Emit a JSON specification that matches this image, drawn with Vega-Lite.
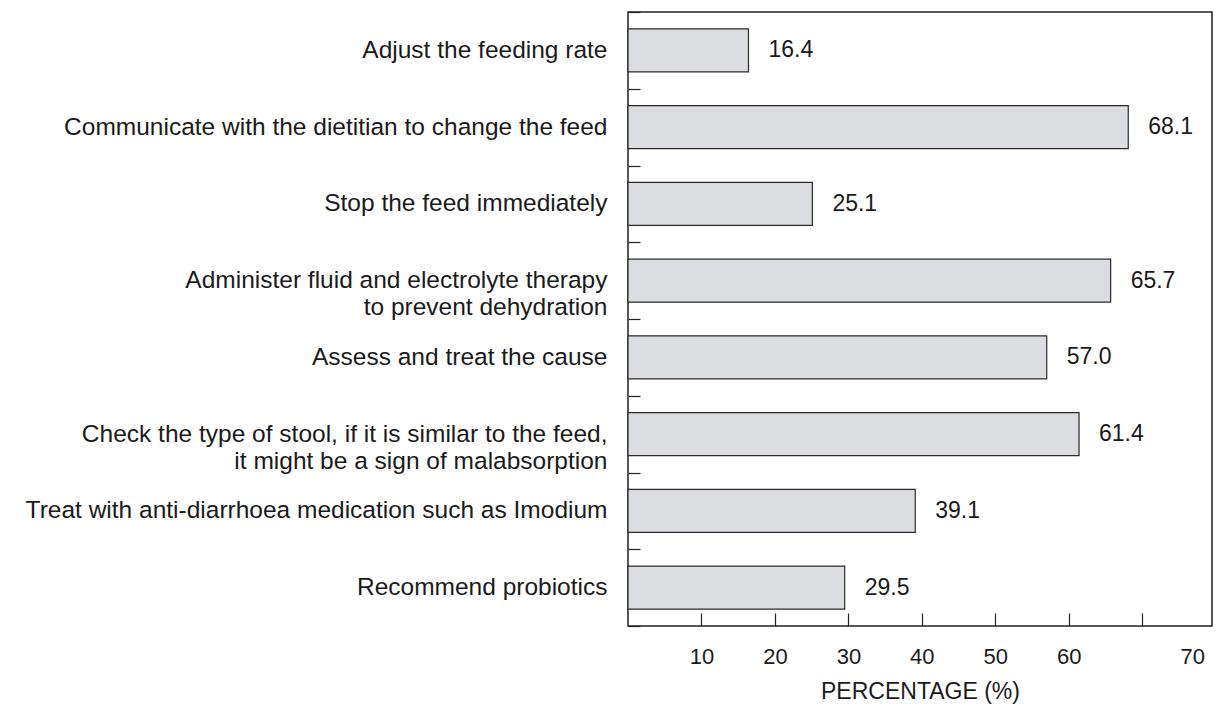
{
  "$schema": "https://vega.github.io/schema/vega-lite/v6.json",
  "autosize": "none",
  "padding": {"left": 628, "top": 12, "right": 6, "bottom": 78},
  "width": 584,
  "height": 614,
  "background": "white",
  "config": {
    "view": {"stroke": "#222222", "strokeWidth": 1.5},
    "font": "Liberation Sans"
  },
  "data": {
    "values": [
      {"action": "Adjust the feeding rate", "pct": 16.4},
      {"action": "Communicate with the dietitian to change the feed", "pct": 68.1},
      {"action": "Stop the feed immediately", "pct": 25.1},
      {"action": "Administer fluid and electrolyte therapy|to prevent dehydration", "pct": 65.7},
      {"action": "Assess and treat the cause", "pct": 57.0},
      {"action": "Check the type of stool, if it is similar to the feed,|it might be a sign of malabsorption", "pct": 61.4},
      {"action": "Treat with anti-diarrhoea medication such as Imodium", "pct": 39.1},
      {"action": "Recommend probiotics", "pct": 29.5}
    ]
  },
  "encoding": {
    "y": {
      "field": "action",
      "type": "nominal",
      "sort": null,
      "scale": {"paddingInner": 0, "paddingOuter": 0},
      "axis": {
        "title": null,
        "domain": false,
        "tickBand": "extent",
        "tickSize": -12,
        "tickColor": "#222222",
        "tickWidth": 1.2,
        "labelExpr": "split(datum.label, '|')",
        "labelFontSize": 24.5,
        "labelColor": "#1a1a1a",
        "labelPadding": 33,
        "labelLineHeight": 27,
        "labelLimit": 700
      }
    },
    "x": {
      "field": "pct",
      "type": "quantitative",
      "scale": {"domain": [0, 79.5], "nice": false, "zero": true},
      "axis": {
        "title": "PERCENTAGE (%)",
        "values": [10, 20, 30, 40, 50, 60, 70, 76.8],
        "labelExpr": "datum.value == 70 ? '' : (datum.value > 75 ? '70' : datum.label)",
        "tickOpacity": {"condition": {"test": "datum.value > 75", "value": 0}, "value": 1},
        "domain": false,
        "grid": false,
        "tickSize": -13,
        "tickColor": "#222222",
        "tickWidth": 1.2,
        "labelFontSize": 22,
        "labelColor": "#1a1a1a",
        "labelPadding": 33,
        "titleFontSize": 23,
        "titleFontWeight": "normal",
        "titleColor": "#1a1a1a",
        "titlePadding": 13
      }
    }
  },
  "layer": [
    {
      "mark": {"type": "bar", "height": {"band": 0.56}, "fill": "#dcdde0", "stroke": "#2a2a2a", "strokeWidth": 1.2}
    },
    {
      "mark": {"type": "text", "align": "left", "baseline": "middle", "dx": 20, "fontSize": 23, "color": "#1a1a1a"},
      "encoding": {"text": {"field": "pct", "type": "quantitative", "format": ".1f"}}
    }
  ]
}
